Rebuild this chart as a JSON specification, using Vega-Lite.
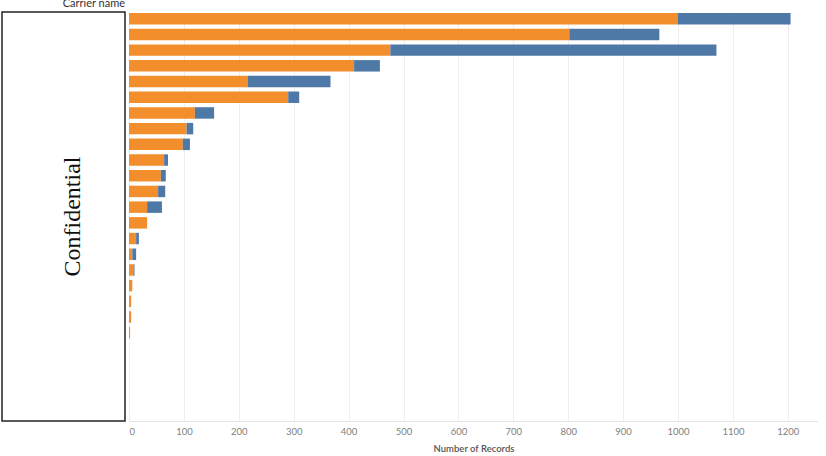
{
  "$schema": "https://vega.github.io/schema/vega-lite/v6.json",
  "padding": {"left": 1, "top": -3, "right": 0, "bottom": 0},
  "background": "white",
  "spacing": 4,
  "bounds": "flush",
  "config": {
    "font": "Lato",
    "view": {"stroke": null}
  },
  "datasets": {
    "notice": [{"label": "Confidential"}],
    "records": [
      {"carrier": "Carrier 01", "group": "Group 1", "records": 1000},
      {"carrier": "Carrier 01", "group": "Group 2", "records": 205},
      {"carrier": "Carrier 02", "group": "Group 1", "records": 802},
      {"carrier": "Carrier 02", "group": "Group 2", "records": 164},
      {"carrier": "Carrier 03", "group": "Group 1", "records": 476},
      {"carrier": "Carrier 03", "group": "Group 2", "records": 594},
      {"carrier": "Carrier 04", "group": "Group 1", "records": 410},
      {"carrier": "Carrier 04", "group": "Group 2", "records": 47},
      {"carrier": "Carrier 05", "group": "Group 1", "records": 216},
      {"carrier": "Carrier 05", "group": "Group 2", "records": 151},
      {"carrier": "Carrier 06", "group": "Group 1", "records": 290},
      {"carrier": "Carrier 06", "group": "Group 2", "records": 20},
      {"carrier": "Carrier 07", "group": "Group 1", "records": 120},
      {"carrier": "Carrier 07", "group": "Group 2", "records": 35},
      {"carrier": "Carrier 08", "group": "Group 1", "records": 105},
      {"carrier": "Carrier 08", "group": "Group 2", "records": 12},
      {"carrier": "Carrier 09", "group": "Group 1", "records": 98},
      {"carrier": "Carrier 09", "group": "Group 2", "records": 13},
      {"carrier": "Carrier 10", "group": "Group 1", "records": 64},
      {"carrier": "Carrier 10", "group": "Group 2", "records": 7},
      {"carrier": "Carrier 11", "group": "Group 1", "records": 58},
      {"carrier": "Carrier 11", "group": "Group 2", "records": 9},
      {"carrier": "Carrier 12", "group": "Group 1", "records": 53},
      {"carrier": "Carrier 12", "group": "Group 2", "records": 13},
      {"carrier": "Carrier 13", "group": "Group 1", "records": 33},
      {"carrier": "Carrier 13", "group": "Group 2", "records": 27},
      {"carrier": "Carrier 14", "group": "Group 1", "records": 33},
      {"carrier": "Carrier 15", "group": "Group 1", "records": 13},
      {"carrier": "Carrier 15", "group": "Group 2", "records": 5},
      {"carrier": "Carrier 16", "group": "Group 1", "records": 6},
      {"carrier": "Carrier 16", "group": "Group 2", "records": 7},
      {"carrier": "Carrier 17", "group": "Group 1", "records": 8},
      {"carrier": "Carrier 17", "group": "Group 2", "records": 2},
      {"carrier": "Carrier 18", "group": "Group 1", "records": 6},
      {"carrier": "Carrier 19", "group": "Group 1", "records": 4},
      {"carrier": "Carrier 20", "group": "Group 1", "records": 4},
      {"carrier": "Carrier 21", "group": "Group 1", "records": 2}
    ]
  },
  "hconcat": [
    {
      "width": 123,
      "height": 409,
      "title": {
        "text": "Carrier name",
        "anchor": "end",
        "fontSize": 11,
        "fontWeight": "normal",
        "color": "#333333",
        "offset": 3
      },
      "view": {"stroke": "#222222", "strokeWidth": 1.5, "fill": "white"},
      "data": {"name": "notice"},
      "mark": {
        "type": "text",
        "font": "Liberation Serif",
        "fontSize": 24,
        "angle": 270,
        "baseline": "top",
        "dy": -3,
        "color": "#111111"
      },
      "encoding": {"text": {"field": "label", "type": "nominal"}}
    },
    {
      "width": 689,
      "height": 409,
      "data": {"name": "records"},
      "mark": {"type": "bar"},
      "encoding": {
        "y": {
          "field": "carrier",
          "type": "nominal",
          "axis": null,
          "scale": {
            "domain": [
              "Carrier 01", "Carrier 02", "Carrier 03", "Carrier 04", "Carrier 05",
              "Carrier 06", "Carrier 07", "Carrier 08", "Carrier 09", "Carrier 10",
              "Carrier 11", "Carrier 12", "Carrier 13", "Carrier 14", "Carrier 15",
              "Carrier 16", "Carrier 17", "Carrier 18", "Carrier 19", "Carrier 20",
              "Carrier 21", "(empty row 1)", "(empty row 2)", "(empty row 3)",
              "(empty row 4)", "(empty row 5)"
            ],
            "paddingInner": 0.27,
            "paddingOuter": 0.16,
            "align": 0.2,
            "round": false
          }
        },
        "x": {
          "field": "records",
          "type": "quantitative",
          "stack": "zero",
          "scale": {"domain": [0, 1255], "nice": false},
          "axis": {
            "values": [0, 100, 200, 300, 400, 500, 600, 700, 800, 900, 1000, 1100, 1200],
            "format": "d",
            "title": "Number of Records",
            "titleFontSize": 9.5,
            "titleFontWeight": 600,
            "titleColor": "#555555",
            "titlePadding": 8,
            "labelFontSize": 9.5,
            "labelColor": "#808080",
            "labelPadding": 5,
            "labelFlush": true,
            "ticks": false,
            "domainColor": "#e4e4e4",
            "gridColor": "#eeeeee"
          }
        },
        "color": {
          "field": "group",
          "type": "nominal",
          "scale": {"domain": ["Group 1", "Group 2"], "range": ["#F28E2B", "#4E79A7"]},
          "legend": null
        },
        "order": {"field": "group", "type": "nominal", "sort": "ascending"}
      }
    }
  ]
}
